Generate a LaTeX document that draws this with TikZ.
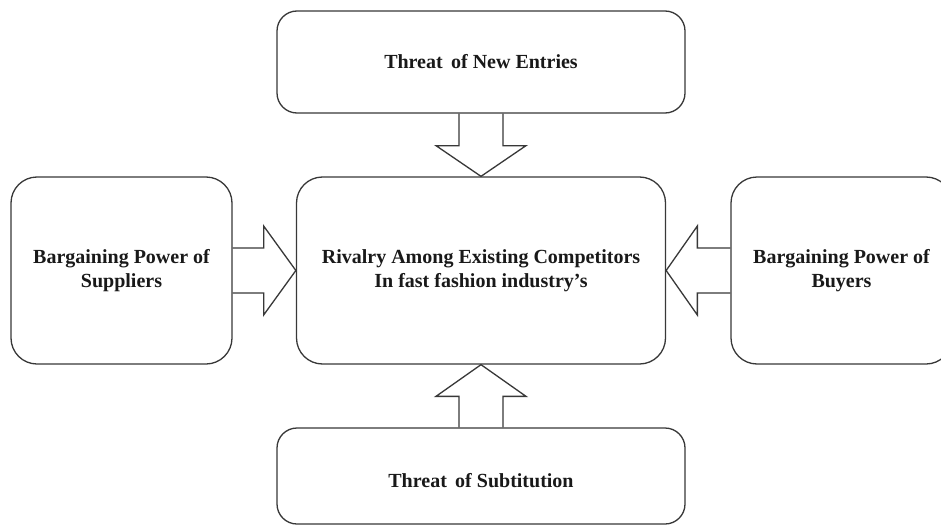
\documentclass[tikz,border=0pt]{standalone}
\usepackage{fontspec}
\setmainfont{Liberation Serif}
\usetikzlibrary{calc}
\begin{document}
\begin{tikzpicture}[x=1pt,y=-1pt,
  box/.style={draw=black!78, line width=1.3pt, rounded corners=26pt, inner sep=0pt,
    align=center, font=\fontsize{20}{23.5}\selectfont\bfseries, text=black!90},
  barrow/.style={draw=black!78, line width=1.3pt, line join=miter}]
\clip (0,0) rectangle (941,524);
\fill[white] (0,0) rectangle (941,524);
\node[box, rounded corners=20pt, minimum width=408pt, minimum height=102pt] (top) at (481,62) {Threat\, of New Entries};
\node[box, minimum width=369pt, minimum height=187pt] (center) at (481,270.5) {Rivalry Among Existing Competitors\\In fast fashion industry’s};
\node[box, minimum width=221pt, minimum height=187pt] (left) at (121.5,270.5) {Bargaining Power of\\Suppliers};
\node[box, minimum width=221pt, minimum height=187pt] (right) at (841.5,270.5) {Bargaining Power of\\Buyers};
\node[box, rounded corners=20pt, minimum width=408pt, minimum height=96pt] (bottom) at (481,476) {};
\node[font=\fontsize{20}{23.5}\selectfont\bfseries, text=black!90] (bottomtext) at (481,481) {Threat\, of Subtitution};
% top arrow
\draw[barrow] ($(top.south)+(-22,0)$) -- ($(top.south)+(-22,32)$) -- ($(top.south)+(-45,32)$) -- (center.north) -- ($(top.south)+(45,32)$) -- ($(top.south)+(22,32)$) -- ($(top.south)+(22,0)$);
% bottom arrow
\draw[barrow] ($(bottom.north)+(-22,0)$) -- ($(bottom.north)+(-22,-31)$) -- ($(bottom.north)+(-45,-31)$) -- (center.south) -- ($(bottom.north)+(45,-31)$) -- ($(bottom.north)+(22,-31)$) -- ($(bottom.north)+(22,0)$);
% left arrow
\draw[barrow] ($(left.east)+(0,-22.5)$) -- ($(left.east)+(31,-22.5)$) -- ($(left.east)+(31,-44.5)$) -- (center.west) -- ($(left.east)+(31,44.5)$) -- ($(left.east)+(31,22.5)$) -- ($(left.east)+(0,22.5)$);
% right arrow
\draw[barrow] ($(right.west)+(0,-22.5)$) -- ($(right.west)+(-33,-22.5)$) -- ($(right.west)+(-33,-44.5)$) -- (center.east) -- ($(right.west)+(-33,44.5)$) -- ($(right.west)+(-33,22.5)$) -- ($(right.west)+(0,22.5)$);
\end{tikzpicture}
\end{document}
